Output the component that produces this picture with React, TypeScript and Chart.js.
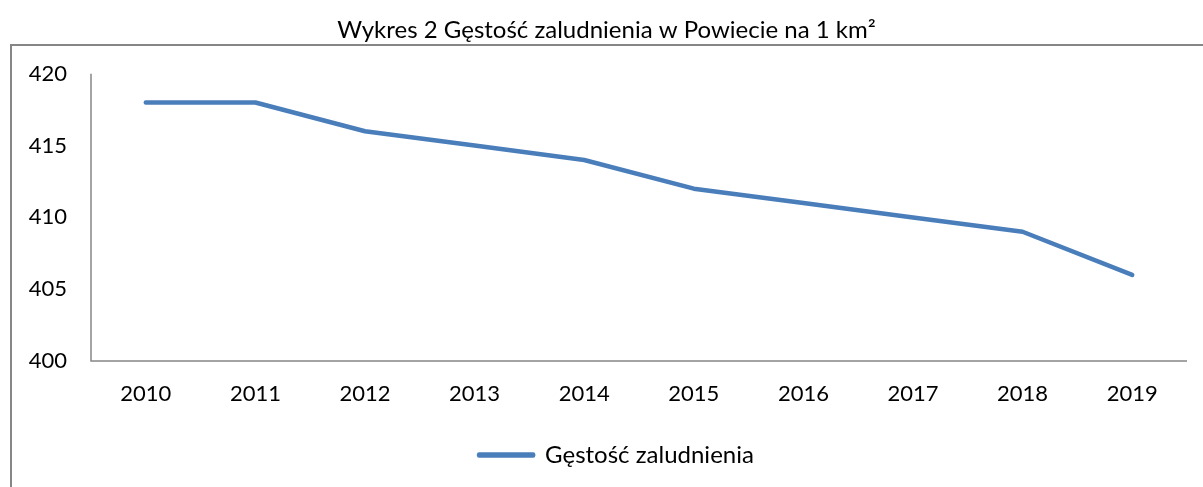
import React, { useEffect, useRef } from "react";
import { Chart, registerables } from "chart.js";

Chart.register(...registerables);

const years = ["2010", "2011", "2012", "2013", "2014", "2015", "2016", "2017", "2018", "2019"];
const density = [418, 418, 416, 415, 414, 412, 411, 410, 409, 406];
const seriesName = "Gęstość zaludnienia";
const titleText = "Wykres 2 Gęstość zaludnienia w Powiecie na 1 km²";
const yMin = 400;
const yMax = 420;
const yStep = 5;

const FONT = "Lato, 'Open Sans', sans-serif";

const borderPlugin = {
  id: "outerBorder",
  afterLayout(chart: any) {
    const lg = chart.legend;
    if (lg) {
      lg.left += 10;
      lg.right += 10;
    }
  },
  beforeDraw(chart: any) {
    const ctx = chart.ctx;
    ctx.save();
    ctx.strokeStyle = "#868686";
    ctx.lineWidth = 2;
    ctx.strokeRect(11, 45, chart.width + 40, chart.height + 40);
    ctx.restore();
  },
  beforeDatasetsDraw(chart: any) {
    const { ctx, chartArea } = chart;
    ctx.save();
    ctx.strokeStyle = "#868686";
    ctx.lineWidth = 1.5;
    ctx.beginPath();
    ctx.moveTo(chartArea.left, chartArea.top);
    ctx.lineTo(chartArea.left, chartArea.bottom);
    ctx.lineTo(chartArea.right, chartArea.bottom);
    ctx.stroke();
    ctx.restore();
  },
};

export default function App() {
  const ref = useRef<HTMLCanvasElement | null>(null);
  useEffect(() => {
    if (!ref.current) return;
    const chart = new Chart(ref.current, {
      type: "line",
      data: {
        labels: years,
        datasets: [
          {
            label: seriesName,
            data: density,
            borderColor: "#4a7ebb",
            backgroundColor: "#4a7ebb",
            borderWidth: 4.5,
            borderCapStyle: "round",
            borderJoinStyle: "round",
            pointRadius: 0,
            tension: 0,
            fill: false,
          },
        ],
      },
      options: {
        animation: false,
        responsive: false,
        layout: { padding: { left: 26, right: 16, top: 0, bottom: 10 } },
        plugins: {
          title: {
            display: true,
            text: titleText,
            color: "#000",
            font: { family: FONT, size: 24, weight: "normal" },
            padding: { top: 16, bottom: 29 },
          },
          legend: {
            display: true,
            position: "bottom",
            labels: {
              color: "#000",
              font: { family: FONT, size: 24 },
              boxWidth: 54,
              boxHeight: 1,
              padding: 10,
            },
          },
          tooltip: { enabled: false },
        },
        scales: {
          x: {
            offset: true,
            grid: { display: false, drawTicks: false },
            border: { display: false },
            ticks: {
              color: "#000",
              font: { family: FONT, size: 22 },
              padding: 20,
              maxRotation: 0,
            },
            afterFit(scale: any) {
              scale.height = 72;
            },
          },
          y: {
            min: yMin,
            max: yMax,
            grid: { display: false, drawTicks: false },
            border: { display: false },
            ticks: {
              stepSize: yStep,
              color: "#000",
              font: { family: FONT, size: 22 },
              padding: 24,
            },
            afterFit(scale: any) {
              scale.width = 65;
            },
          },
        },
      },
      plugins: [borderPlugin],
    });
    return () => chart.destroy();
  }, []);
  return (
    <div style={{ position: "fixed", left: 0, top: 0, width: 1203, height: 487, background: "#fff" }}>
      <canvas ref={ref} width={1203} height={487} style={{ display: "block" }} />
    </div>
  );
}
